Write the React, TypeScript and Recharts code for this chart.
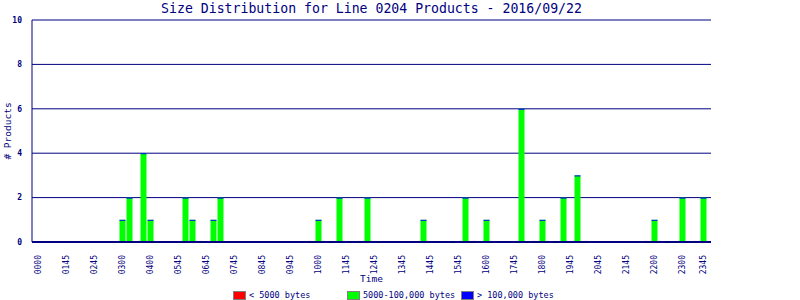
import { BarChart, Bar, XAxis, YAxis, CartesianGrid } from "recharts";

const NAVY = "#000080";
const FONT = "'DejaVu Sans Mono', monospace";

// 15-minute slots across the day
const slots: string[] = [];
for (let h = 0; h < 24; h++) {
  for (let m = 0; m < 60; m += 15) {
    slots.push(String(h).padStart(2, "0") + String(m).padStart(2, "0"));
  }
}

// slots that had products (all other slots are 0)
const barTimes = [
  "0300", "0315", "0345", "0400", "0515", "0530", "0615", "0630", "1000", "1045", "1145",
  "1345", "1515", "1600", "1715", "1800", "1845", "1915", "2200", "2300", "2345",
];
const midCounts = [1, 2, 4, 1, 2, 1, 1, 2, 1, 2, 2, 1, 2, 1, 6, 1, 2, 3, 1, 2, 2];

const tickSlots = [
  "0000", "0100", "0200", "0300", "0400", "0500", "0600", "0700", "0800", "0900", "1000", "1100",
  "1200", "1300", "1400", "1500", "1600", "1700", "1800", "1900", "2000", "2100", "2200", "2300", "2345",
];
const tickLabels = [
  "0000", "0145", "0245", "0300", "0400", "0545", "0645", "0745", "0845", "0945", "1000", "1145",
  "1245", "1345", "1445", "1545", "1600", "1745", "1800", "1945", "2045", "2145", "2200", "2300", "2345",
];
const yTicks = [0, 2, 4, 6, 8, 10];

const series = [
  { key: "small", name: "< 5000 bytes", color: "#ff0000" },
  { key: "mid", name: "5000-100,000 bytes", color: "#00ff00" },
  { key: "large", name: "> 100,000 bytes", color: "#0000ff" },
];

const data = slots.map((s) => {
  const i = barTimes.indexOf(s);
  return { slot: s, small: 0, mid: i >= 0 ? midCounts[i] : 0, large: 0 };
});

const MidShape = (props: any) => {
  const { x, y, width, height } = props;
  if (!height || height <= 0) return null;
  return (
    <g>
      <rect x={x} y={y} width={width} height={height} fill="#00ff00" />
      <rect x={x} y={y} width={width} height={1} fill="#0000ff" />
    </g>
  );
};

const XTick = (props: any) => {
  const { x, y, payload } = props;
  const idx = tickSlots.indexOf(payload.value);
  return (
    <text
      x={x}
      y={y + 5}
      transform={`rotate(-90 ${x} ${y + 5})`}
      textAnchor="end"
      dy={3}
      fontSize={8}
      fontFamily={FONT}
      fill={NAVY}
    >
      {idx >= 0 ? tickLabels[idx] : payload.value}
    </text>
  );
};

export default function App() {
  return (
    <div style={{ position: "relative", width: 800, height: 300, background: "#fff", fontFamily: FONT }}>
      <style>{"body{margin:0}"}</style>
      <div
        style={{
          position: "absolute",
          top: 1,
          left: 32,
          width: 679,
          textAlign: "center",
          fontSize: 13.2,
          color: NAVY,
          lineHeight: "16px",
        }}
      >
        Size Distribution for Line 0204 Products - 2016/09/22
      </div>
      <BarChart
        width={800}
        height={300}
        data={data}
        margin={{ top: 20, right: 89, bottom: 13, left: 0 }}
        barSize={6}
        barCategoryGap={0}
      >
        <CartesianGrid horizontal vertical={false} stroke={NAVY} strokeWidth={1} />
        <XAxis
          dataKey="slot"
          ticks={tickSlots}
          interval={0}
          tick={<XTick />}
          tickLine={false}
          axisLine={{ stroke: NAVY, strokeWidth: 2 }}
          padding={{ left: 2.5, right: 4.5 }}
          height={45}
          label={{ value: "Time", position: "insideBottom", offset: 5, fill: NAVY, fontSize: 9.5, fontFamily: FONT }}
        />
        <YAxis
          domain={[0, 10]}
          ticks={yTicks}
          width={32}
          tickLine={false}
          axisLine={{ stroke: NAVY }}
          tick={{ fontSize: 8, fill: NAVY, fontFamily: FONT, fontWeight: "bold" }}
          tickMargin={4}
          label={{ value: "# Products", angle: -90, position: "center", dx: -8, fill: NAVY, fontSize: 9.5, fontFamily: FONT }}
        />
        <YAxis yAxisId="r" orientation="right" domain={[0, 10]} width={0} tick={false} tickLine={false} axisLine={{ stroke: NAVY }} />
        <Bar dataKey="small" name={series[0].name} stackId="a" fill={series[0].color} isAnimationActive={false} />
        <Bar dataKey="mid" name={series[1].name} stackId="a" fill={series[1].color} shape={<MidShape />} isAnimationActive={false} />
        <Bar dataKey="large" name={series[2].name} stackId="a" fill={series[2].color} isAnimationActive={false} />
      </BarChart>
      {series.map((s, i) => (
        <div
          key={s.key}
          style={{
            position: "absolute",
            top: 290,
            left: 233 + i * 114,
            display: "flex",
            alignItems: "center",
            fontSize: 8.5,
            color: NAVY,
            whiteSpace: "nowrap",
            lineHeight: "10px",
          }}
        >
          <span
            style={{
              display: "inline-block",
              width: 11,
              height: 7,
              background: s.color,
              border: "1px solid #808080",
              marginRight: 3,
            }}
          />
          {s.name}
        </div>
      ))}
    </div>
  );
}
